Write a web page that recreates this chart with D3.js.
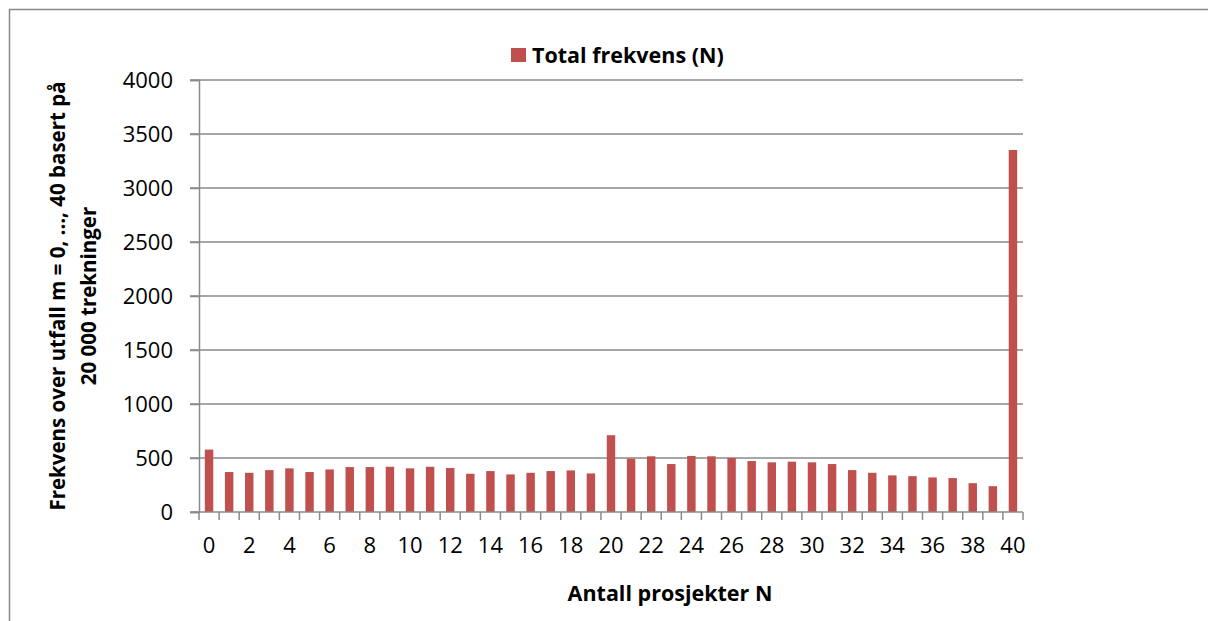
<!DOCTYPE html>
<html>
<head>
<meta charset="utf-8">
<script src="https://cdn.jsdelivr.net/npm/d3@7"></script>
<style>
  html, body { margin: 0; padding: 0; background: #fff; }
  svg { display: block; }
  text { font-family: "Open Sans", "Liberation Sans", sans-serif; fill: #000; }
</style>
</head>
<body>
<svg id="chart" width="1208" height="621"></svg>
<script>
// Number of projects N (categories on the x axis)
const categories = d3.range(0, 41);
// Total frequency for each outcome m = 0..40 over 20 000 draws
const frequencies = [
  578, 370, 363, 388, 404, 370, 394, 416, 416, 419,
  404, 419, 407, 354, 379, 348, 363, 379, 385, 357,
  711, 494, 516, 444, 519, 516, 500, 472, 460, 466,
  460, 444, 388, 363, 339, 332, 320, 314, 267, 239,
  3352
];
const yTicks = [0, 500, 1000, 1500, 2000, 2500, 3000, 3500, 4000];
const xTickLabels = categories.filter(d => d % 2 === 0);
const seriesName = "Total frekvens (N)";
const xTitle = "Antall prosjekter N";
const yTitleLines = ["Frekvens over utfall m = 0, ..., 40 basert på", "20 000 trekninger"];

const svg = d3.select("#chart");
const W = 1208, H = 621;
const plot = { left: 199, right: 1023, top: 80, bottom: 512 };
const gridColor = "#8a8a8a";
const barColor = "#C0504D";

// outer chart frame (extends past the viewport on right and bottom)
svg.append("rect")
  .attr("x", 9.5).attr("y", 9.5)
  .attr("width", W + 20).attr("height", H + 20)
  .attr("fill", "#fff").attr("stroke", "#888").attr("stroke-width", 1.5);

const x = d3.scaleBand()
  .domain(categories)
  .range([plot.left, plot.right])
  .paddingInner(0.58)
  .paddingOuter(0.29);

const xEdge = d3.scaleLinear()
  .domain([0, categories.length])
  .range([plot.left, plot.right]);

const y = d3.scaleLinear()
  .domain([0, 4000])
  .range([plot.bottom, plot.top]);

// horizontal gridlines
svg.append("g")
  .selectAll("line")
  .data(yTicks.filter(d => d > 0))
  .join("line")
  .attr("x1", plot.left - 9).attr("x2", plot.right)
  .attr("y1", d => y(d)).attr("y2", d => y(d))
  .attr("stroke", gridColor).attr("stroke-width", 1.5);

// y axis
const yAxis = svg.append("g")
  .attr("transform", `translate(${plot.left},0)`)
  .call(d3.axisLeft(y).tickValues(yTicks).tickSize(9).tickPadding(17).tickFormat(d3.format("d")));
yAxis.select(".domain").attr("stroke", gridColor).attr("stroke-width", 1.5);
yAxis.selectAll(".tick line").attr("stroke", gridColor).attr("stroke-width", 1.5);
yAxis.selectAll(".tick text")
  .style("font-size", "22px")
  .style("font-family", "'Open Sans', sans-serif")
  .attr("fill", "#000");

// bars
svg.append("g")
  .selectAll("rect")
  .data(categories)
  .join("rect")
  .attr("x", d => x(d))
  .attr("width", x.bandwidth())
  .attr("y", (d, i) => y(frequencies[i]))
  .attr("height", (d, i) => y(0) - y(frequencies[i]))
  .attr("fill", barColor);

// x axis line and boundary ticks
svg.append("line")
  .attr("x1", plot.left - 9).attr("x2", plot.right)
  .attr("y1", y(0)).attr("y2", y(0))
  .attr("stroke", gridColor).attr("stroke-width", 1.5);

svg.append("g")
  .selectAll("line")
  .data(d3.range(0, categories.length + 1))
  .join("line")
  .attr("x1", d => xEdge(d)).attr("x2", d => xEdge(d))
  .attr("y1", y(0)).attr("y2", y(0) + 8)
  .attr("stroke", gridColor).attr("stroke-width", 1.5);

svg.append("g")
  .selectAll("text")
  .data(xTickLabels)
  .join("text")
  .attr("x", d => x(d) + x.bandwidth() / 2)
  .attr("y", y(0) + 41)
  .attr("text-anchor", "middle")
  .style("font-size", "22px")
  .text(d => d);

// axis titles
svg.append("text")
  .attr("x", 670)
  .attr("y", 601)
  .attr("text-anchor", "middle")
  .style("font-size", "21.5px")
  .style("font-weight", "bold")
  .text(xTitle);

const yMid = (plot.top + plot.bottom) / 2;
svg.append("g")
  .selectAll("text")
  .data(yTitleLines)
  .join("text")
  .attr("transform", (d, i) => `translate(${65 + i * 31},${yMid}) rotate(-90)`)
  .attr("text-anchor", "middle")
  .style("font-size", "20.5px")
  .style("font-weight", "bold")
  .text(d => d);

// legend
const legend = svg.append("g").attr("transform", "translate(511,48)");
legend.append("rect")
  .attr("width", 15).attr("height", 14)
  .attr("fill", barColor);
legend.append("text")
  .attr("x", 21).attr("y", 14.5)
  .style("font-size", "21.5px")
  .style("font-weight", "bold")
  .text(seriesName);
</script>
</body>
</html>
